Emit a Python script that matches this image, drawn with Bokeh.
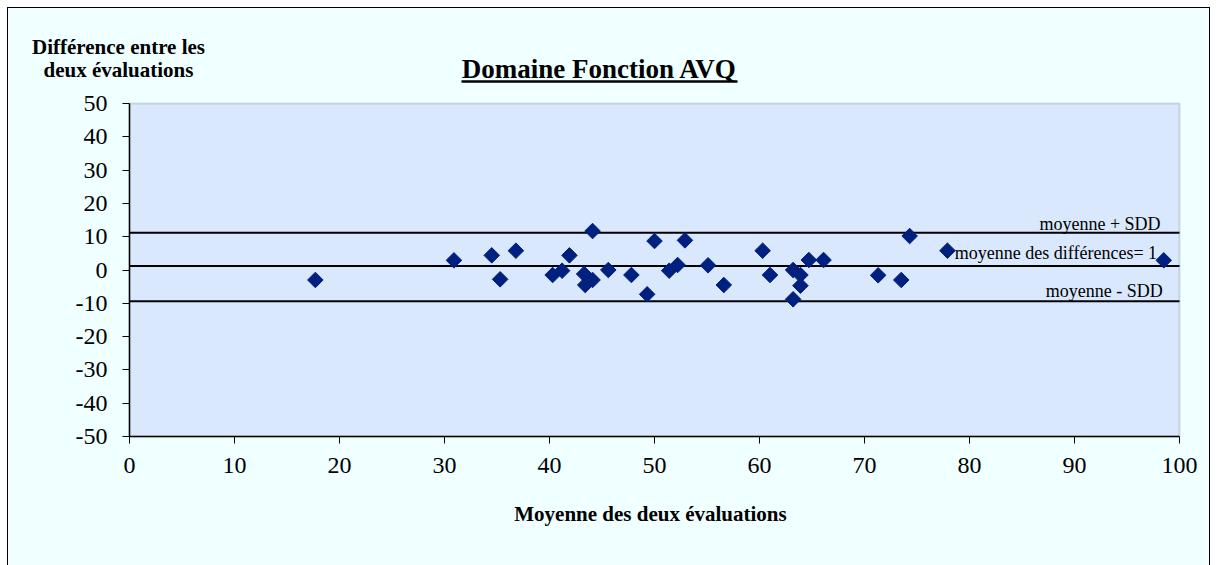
import math
from bokeh.plotting import figure
from bokeh.models import (Range1d, FixedTicker, Label, Arrow, ColumnDataSource,
                          BoxAnnotation)
from bokeh.embed import file_html
from bokeh.resources import INLINE

# ---- data ----
mean_x = [17.7, 30.9, 34.5, 35.3, 36.8, 40.3, 41.2, 41.9, 43.3, 43.4, 44.1, 44.1,
          45.6, 47.8, 49.3, 50.0, 51.4, 52.2, 52.9, 55.1, 56.6, 60.3, 61.0, 63.2,
          63.2, 63.9, 63.9, 64.7, 66.1, 71.3, 73.5, 74.3, 77.9, 98.5]
diff_y = [-3.0, 2.9, 4.4, -2.8, 5.8, -1.5, -0.2, 4.4, -1.2, -4.5, 11.7, -3.0,
          0.0, -1.5, -7.3, 8.7, -0.2, 1.5, 8.9, 1.4, -4.5, 5.8, -1.5, 0.0,
          -8.8, -1.5, -4.7, 3.0, 3.0, -1.6, -3.0, 10.2, 5.8, 2.9]
ref_lines = [11.2, 1.2, -9.4]          # moyenne + SDD, moyenne, moyenne - SDD
ref_texts = ["moyenne + SDD", "moyenne des différences= 1", "moyenne - SDD"]
x_ticks = [0, 10, 20, 30, 40, 50, 60, 70, 80, 90, 100]
y_ticks = [-50, -40, -30, -20, -10, 0, 10, 20, 30, 40, 50]

title_text = "Domaine Fonction AVQ"
y_title = ["Différence entre les", "deux évaluations"]
x_title = "Moyenne des deux évaluations"

# ---- layout (pixels) ----
W, H = 1201, 557
PLOT_L, PLOT_R, PLOT_T, PLOT_B = 121, 1171, 95, 428   # plot area inside the figure
x_lo, x_hi = x_ticks[0], x_ticks[-1]
y_lo, y_hi = y_ticks[0], y_ticks[-1]
xs = (PLOT_R - PLOT_L) / (x_hi - x_lo)
ys = (PLOT_B - PLOT_T) / (y_hi - y_lo)
xr = Range1d(x_lo - PLOT_L / xs, x_hi + (W - PLOT_R) / xs)
yr = Range1d(y_lo - (H - PLOT_B) / ys, y_hi + PLOT_T / ys)

OFF = 8    # page margin
ADJ = 8    # baseline correction for label rendering

def fx(px):   # page pixel -> data x
    return x_lo + (px - OFF - PLOT_L) / xs

def fy(py):   # page pixel (from top) -> data y
    return y_hi - (py - OFF - PLOT_T) / ys

SERIF = "Liberation Serif"

p = figure(width=W, height=H, output_backend="svg", toolbar_location=None,
           x_range=xr, y_range=yr,
           min_border_left=0, min_border_right=0, min_border_top=0, min_border_bottom=0)
p.styles = {"outline": "1px solid #000000", "margin-left": "8px", "margin-top": "8px"}

p.background_fill_color = "#F0FFFF"
p.border_fill_color = "#F0FFFF"
p.outline_line_color = None
p.xgrid.visible = False
p.ygrid.visible = False

# plot area
p.add_layout(BoxAnnotation(left=x_lo, right=x_hi, bottom=y_lo, top=y_hi,
                           fill_color="#D9E8FD", fill_alpha=1.0,
                           line_color="#8A8A8A", line_width=2, level="underlay"))

for ax, ticks in ((p.xaxis, x_ticks), (p.yaxis, y_ticks)):
    ax.ticker = FixedTicker(ticks=ticks)
    ax.major_label_overrides = {t: str(t) for t in ticks}
    ax.minor_tick_line_color = None
    ax.major_tick_in = 0
    ax.major_tick_out = 7
    ax.axis_line_color = "black"
    ax.axis_line_width = 1.5
    ax.major_tick_line_color = "black"
    ax.major_label_text_font = SERIF
    ax.major_label_text_font_size = "24px"
    ax.major_label_text_color = "black"
p.xaxis.fixed_location = y_lo
p.xaxis.bounds = (x_lo, x_hi)
p.yaxis.fixed_location = x_lo
p.yaxis.bounds = (y_lo, y_hi)
p.yaxis.major_label_standoff = 15
p.xaxis.major_label_standoff = 14

# reference lines across the plot area
p.segment(x0=[x_lo] * len(ref_lines), x1=[x_hi] * len(ref_lines), y0=ref_lines, y1=ref_lines,
          line_color="black", line_width=2)

src = ColumnDataSource(dict(x=mean_x, y=diff_y))
p.scatter("x", "y", source=src, marker="square", size=11, angle=math.pi / 4,
          fill_color="#00207F", line_color="#00207F")

# line annotations
lab = dict(text_font=SERIF, text_font_size="18px", text_color="black", text_baseline="bottom")
p.add_layout(Label(x=98.2, y=ref_lines[0] - 0.4, text=ref_texts[0], text_align="right", **lab))
p.add_layout(Label(x=78.6, y=2.0, text=ref_texts[1], text_align="left", **lab))
p.add_layout(Label(x=98.4, y=-9.4, text=ref_texts[2], text_align="right", **lab))

# titles
big = dict(text_font=SERIF, text_font_style="bold", text_color="black",
           text_baseline="alphabetic", text_align="center")
p.add_layout(Label(x=fx(599), y=fy(76 - ADJ), text=title_text, text_font_size="27px", **big))
p.add_layout(Arrow(start=None, end=None, x_start=fx(461), y_start=fy(81),
                   x_end=fx(737), y_end=fy(81), line_color="black", line_width=2.3))
p.add_layout(Label(x=fx(118), y=fy(54 - ADJ), text=y_title[0], text_font_size="21px", **big))
p.add_layout(Label(x=fx(118), y=fy(77 - ADJ), text=y_title[1], text_font_size="21px", **big))
p.add_layout(Label(x=fx(650), y=fy(521 - ADJ), text=x_title, text_font_size="21px", **big))

open("out.html", "w").write(file_html(p, INLINE))
